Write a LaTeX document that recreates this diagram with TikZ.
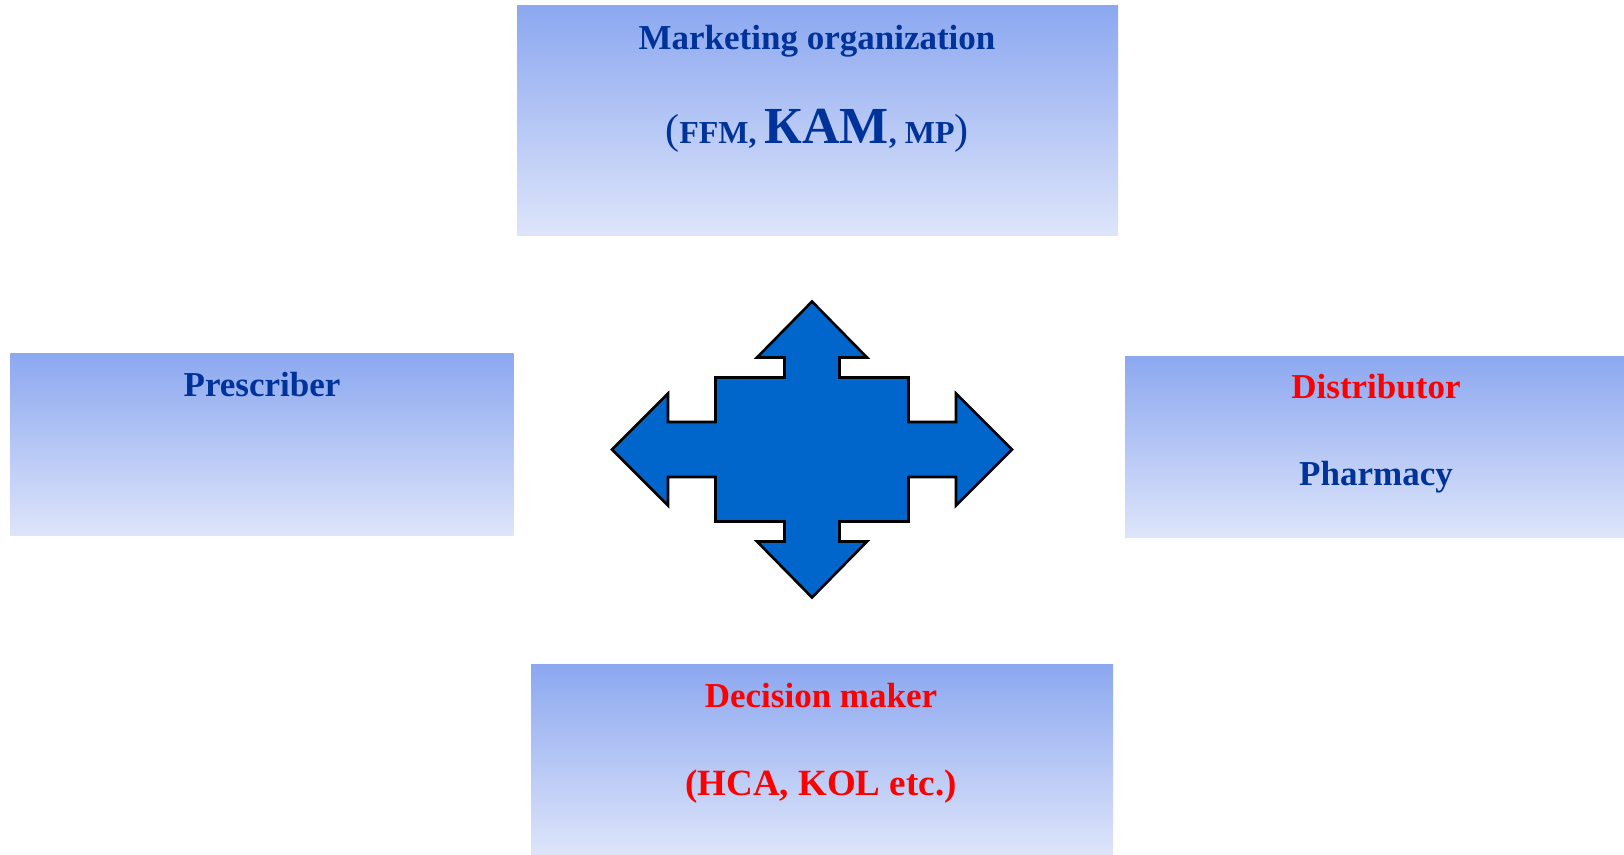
\documentclass[tikz,border=0pt]{standalone}
\usepackage{fontspec}
\setmainfont{Liberation Serif}
\usepackage{tikz}
\usetikzlibrary{positioning}

\definecolor{txtblue}{RGB}{0,51,153}
\definecolor{txtred}{RGB}{255,0,0}
\definecolor{boxtop}{RGB}{140,168,240}
\definecolor{boxbot}{RGB}{222,229,250}
\definecolor{crossfill}{RGB}{0,102,204}

\tikzset{
    % shaded boxes
    gbox/.style={
           rectangle,
           inner sep=0pt,
           top color=boxtop,
           bottom color=boxbot,
           draw=none},
    % labels
    blab/.style={
           text=txtblue,
           inner sep=0pt,
           font=\bfseries\fontsize{17.5}{21}\selectfont},
    rlab/.style={
           blab,
           text=txtred},
    % the four-way arrow
    cross/.style={
           fill=crossfill,
           draw=black,
           line width=1.3pt,
           line join=miter}
}

\begin{document}
\begin{tikzpicture}[x=0.5pt, y=-0.5pt]
    \useasboundingbox (0,0) rectangle (1624,855);

    % BOXES
    \node[gbox, minimum width=300.5pt, minimum height=115pt] at (817.5,121) (mkt) {};
    \node[gbox, minimum width=251.7pt, minimum height=90.7pt] at (262,444.7) (pres) {};
    \node[gbox, minimum width=249.5pt, minimum height=90.7pt] at (1374.5,447) (dist) {};
    \node[gbox, minimum width=291pt, minimum height=95pt] at (822,760) (dec) {};

    % LABELS
    \node[blab] at (817,41) (mktA) {Marketing organization};
    \node[blab, font=\fontsize{21}{25}\selectfont] at (817,131) (mktB)
        {(\bfseries\fontsize{16}{20}\selectfont FFM, \fontsize{26}{30}\selectfont КАМ\fontsize{16}{20}\selectfont, MP\mdseries\fontsize{21}{25}\selectfont)};
    \node[blab] at (262,385) (presA) {Prescriber};
    \node[rlab] at (1376,387) (distA) {Distributor};
    \node[blab] at (1376,477) (distB) {Pharmacy};
    \node[rlab] at (821,696) (decA) {Decision maker};
    \node[rlab, font=\bfseries\fontsize{18.5}{22}\selectfont] at (821,787) (decB) {(HCA, KOL etc.)};

    % CROSS ARROW
    \coordinate (hub) at (812,449.5);
    \draw[cross, shift={(hub)}]
        (0,-148) -- (55,-92) -- (27.5,-92) -- (27.5,-72) -- (96.5,-72) -- (96.5,-27.5)
        -- (144,-27.5) -- (144,-56) -- (200,0) -- (144,56) -- (144,27.5) -- (96.5,27.5)
        -- (96.5,72) -- (27.5,72) -- (27.5,92) -- (55,92) -- (0,148) -- (-55,92)
        -- (-27.5,92) -- (-27.5,72) -- (-96.5,72) -- (-96.5,27.5) -- (-144,27.5)
        -- (-144,56) -- (-200,0) -- (-144,-56) -- (-144,-27.5) -- (-96.5,-27.5)
        -- (-96.5,-72) -- (-27.5,-72) -- (-27.5,-92) -- (-55,-92) -- cycle;

\end{tikzpicture}
\end{document}
